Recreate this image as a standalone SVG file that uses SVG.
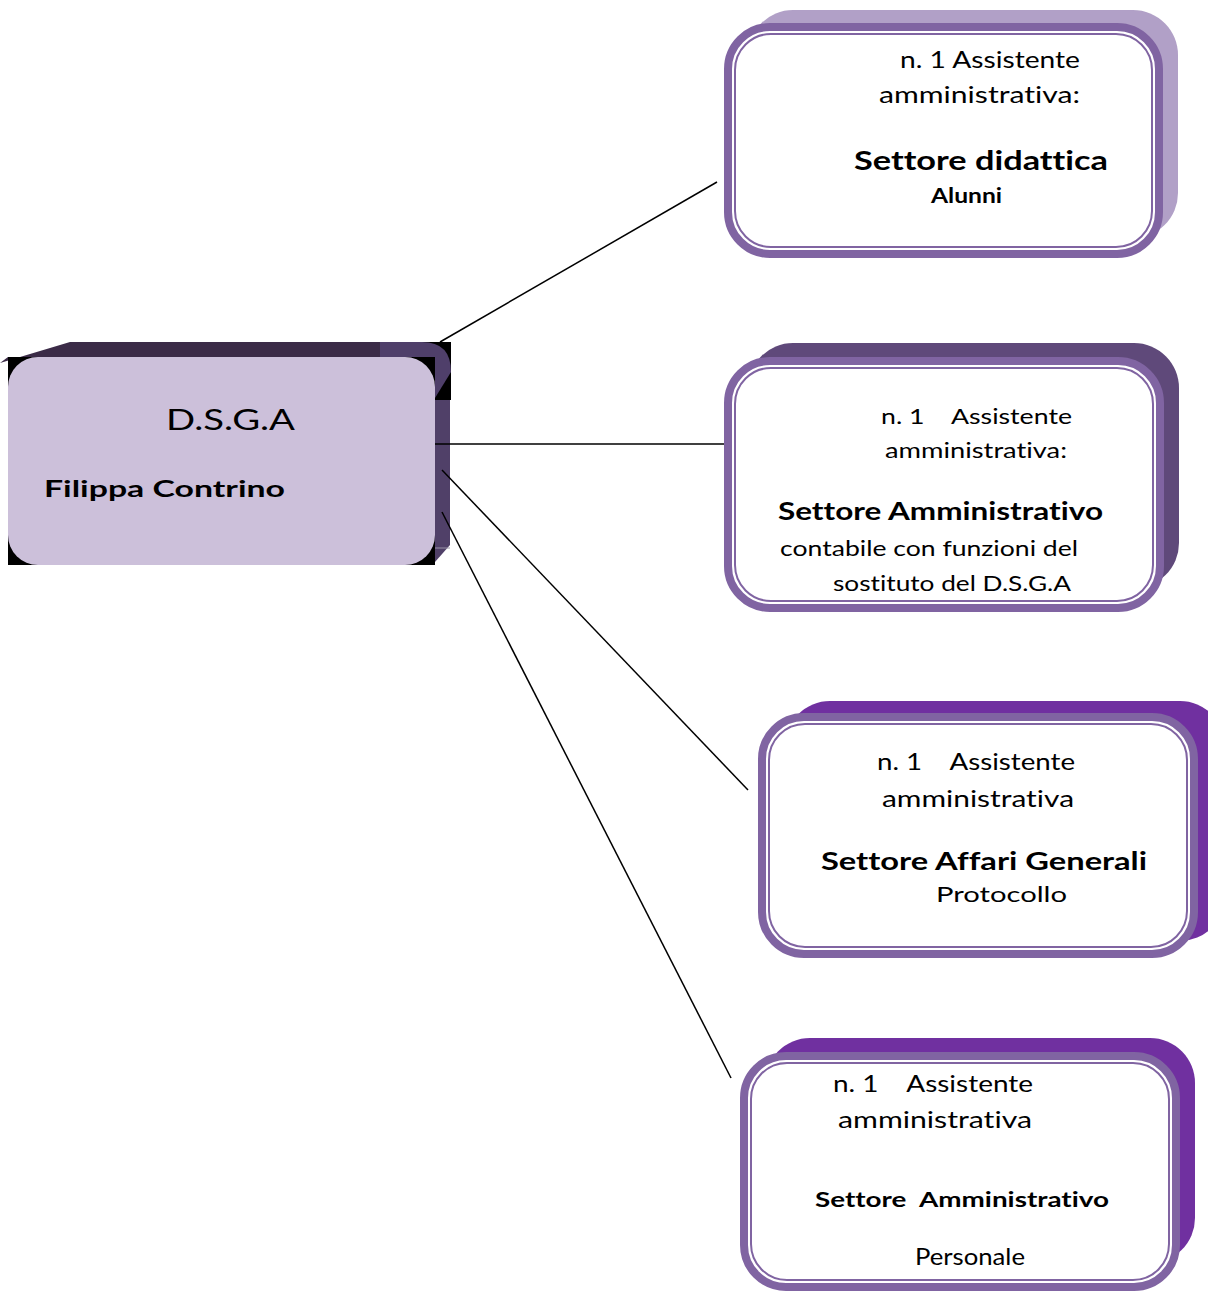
<svg xmlns="http://www.w3.org/2000/svg" width="1208" height="1292" viewBox="0 0 1208 1292">
<style>
.t{font-family:Lato,"Open Sans","Liberation Sans",sans-serif;fill:#000;font-variant-ligatures:none;font-feature-settings:"liga" 0,"clig" 0}
.b{font-weight:bold}
.outer{fill:#fff;stroke:#8064A2;stroke-width:8}
.inner{fill:none;stroke:#8064A2;stroke-width:2}
.conn{stroke:#000;stroke-width:1.5;fill:none}
</style>
<rect width="1208" height="1292" fill="#fff"/>
<g id="dsga">
<path d="M0 363 L70 342 L420 342 L435 357 L8 357 Z" fill="#3B2B47"/>
<path d="M435 357 L450 357 L450 545 L435 562 Z" fill="#504068"/>
<rect x="380" y="342" width="71" height="58" fill="#000"/>
<path d="M380 342 L422 342 Q451 342 451 372 L435 398 L380 398 Z" fill="#4F3F6A"/>
<line x1="435" y1="548" x2="450" y2="548" stroke="#9a93a8" stroke-width="1"/>
<rect x="8" y="357" width="427" height="208" fill="#000"/>
<rect x="8" y="357" width="427" height="208" rx="30" fill="#CCC0DA"/>
<text class="t" x="166" y="430" font-size="28" textLength="129" lengthAdjust="spacingAndGlyphs">D.S.G.A</text>
<text class="t b" x="44" y="497" font-size="23" textLength="241" lengthAdjust="spacingAndGlyphs">Filippa Contrino</text>
</g>
<g id="connectors">
<line class="conn" x1="440" y1="342" x2="717" y2="182"/>
<line class="conn" x1="435" y1="444" x2="726" y2="444"/>
<line class="conn" x1="442" y1="470" x2="748" y2="790"/>
<line class="conn" x1="442" y1="512" x2="731" y2="1078"/>
</g>
<g id="box1">
<rect x="748" y="10" width="430" height="228" rx="45" fill="#B1A0C7"/>
<rect class="outer" x="728" y="27" width="431" height="227" rx="42"/>
<rect class="inner" x="735" y="34" width="417" height="213" rx="36"/>
<text class="t" x="900" y="68" font-size="24" textLength="180" lengthAdjust="spacingAndGlyphs">n. 1 Assistente</text>
<text class="t" x="879" y="103" font-size="24" textLength="201" lengthAdjust="spacingAndGlyphs">amministrativa:</text>
<text class="t b" x="854" y="170" font-size="27" textLength="254" lengthAdjust="spacingAndGlyphs">Settore didattica</text>
<text class="t b" x="931" y="203" font-size="21" textLength="71" lengthAdjust="spacingAndGlyphs">Alunni</text>
</g>
<g id="box2">
<rect x="748" y="343" width="431" height="245" rx="45" fill="#5F497A"/>
<rect class="outer" x="728" y="361" width="432" height="247" rx="42"/>
<rect class="inner" x="735" y="368" width="418" height="233" rx="36"/>
<text class="t" xml:space="preserve" x="881" y="424" font-size="22" textLength="191" lengthAdjust="spacingAndGlyphs">n. 1    Assistente</text>
<text class="t" x="885" y="458" font-size="22" textLength="182" lengthAdjust="spacingAndGlyphs">amministrativa:</text>
<text class="t b" x="778" y="520" font-size="25" textLength="325" lengthAdjust="spacingAndGlyphs">Settore Amministrativo</text>
<text class="t" x="780" y="556" font-size="22" textLength="298" lengthAdjust="spacingAndGlyphs">contabile con funzioni del</text>
<text class="t" x="833" y="591" font-size="22" textLength="238" lengthAdjust="spacingAndGlyphs">sostituto del D.S.G.A</text>
</g>
<g id="box3">
<rect x="785" y="701" width="440" height="240" rx="45" fill="#7030A0"/>
<rect class="outer" x="762" y="717" width="432" height="237" rx="42"/>
<rect class="inner" x="769" y="724" width="418" height="223" rx="36"/>
<text class="t" xml:space="preserve" x="877" y="770" font-size="23" textLength="198" lengthAdjust="spacingAndGlyphs">n. 1    Assistente</text>
<text class="t" x="882" y="807" font-size="23" textLength="192" lengthAdjust="spacingAndGlyphs">amministrativa</text>
<text class="t b" x="821" y="870" font-size="25.5" textLength="326" lengthAdjust="spacingAndGlyphs">Settore Affari Generali</text>
<text class="t" x="936" y="902" font-size="22" textLength="131" lengthAdjust="spacingAndGlyphs">Protocollo</text>
</g>
<g id="box4">
<rect x="765" y="1038" width="430" height="225" rx="45" fill="#7030A0"/>
<rect class="outer" x="744" y="1056" width="432" height="231" rx="42"/>
<rect class="inner" x="751" y="1063" width="418" height="217" rx="36"/>
<text class="t" xml:space="preserve" x="833" y="1092" font-size="23" textLength="200" lengthAdjust="spacingAndGlyphs">n. 1    Assistente</text>
<text class="t" x="838" y="1128" font-size="23" textLength="194" lengthAdjust="spacingAndGlyphs">amministrativa</text>
<text class="t b" xml:space="preserve" x="815" y="1207" font-size="21" textLength="294" lengthAdjust="spacingAndGlyphs">Settore  Amministrativo</text>
<text class="t" x="915" y="1265" font-size="23" textLength="110" lengthAdjust="spacingAndGlyphs">Personale</text>
</g>
</svg>
